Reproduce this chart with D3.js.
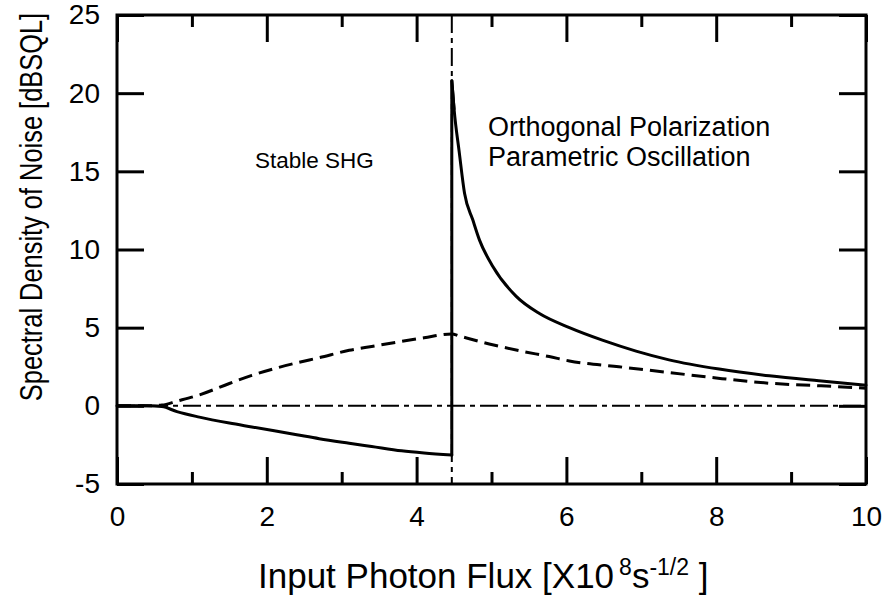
<!DOCTYPE html>
<html>
<head>
<meta charset="utf-8">
<script src="https://cdn.jsdelivr.net/npm/d3@7"></script>
<style>
  html, body { margin: 0; padding: 0; background: #fff; }
  svg text { font-family: "Liberation Sans", Arial, Helvetica, sans-serif; fill: #000; }
</style>
</head>
<body>
<svg id="chart" width="888" height="600"></svg>
<script>
// Input photon flux (x 10^8 s^-1/2) and noise spectral density (dBSQL)
const stableFlux   = [0, 0.4, 0.6, 0.8, 1.1, 1.5, 1.8, 2.1, 2.4, 2.7, 3.1, 3.4, 3.8, 4.1, 4.47];
const stableSolid  = [0, 0, -0.05, -0.37, -0.72, -1.1, -1.35, -1.6, -1.85, -2.1, -2.39, -2.6, -2.88, -3.02, -3.15];
const stableDashed = [0, 0, 0.05, 0.3, 0.7, 1.43, 1.95, 2.38, 2.75, 3.08, 3.55, 3.8, 4.12, 4.35, 4.6];

const oscFlux   = [4.47, 4.5, 4.57, 4.64, 4.75, 4.84, 5.02, 5.33, 5.64, 6.04, 6.48, 6.93, 7.37, 8.04, 8.71, 9.37, 10];
const oscSolid  = [20.8, 19.0, 16.2, 13.6, 11.9, 10.6, 8.9, 7.0, 5.9, 5.0, 4.2, 3.5, 2.94, 2.35, 1.92, 1.6, 1.32];

const oscDashedFlux = [4.47, 4.57, 4.97, 5.4, 5.77, 6.04, 6.7, 7.37, 8.0, 8.7, 9.4, 10];
const oscDashed     = [4.6, 4.47, 3.96, 3.5, 3.15, 2.87, 2.5, 2.13, 1.78, 1.45, 1.28, 1.13];

const threshold = 4.47;            // oscillation threshold flux
const xMajorTicks = [0, 2, 4, 6, 8, 10];
const xMinorTicks = [1, 3, 5, 7, 9];
const yTicks = [-5, 0, 5, 10, 15, 20, 25];

const svg = d3.select("#chart");
const x = d3.scaleLinear().domain([0, 10]).range([117, 866]);
const y = d3.scaleLinear().domain([-5, 25]).range([484, 15]);

const majorLen = 27, minorLen = 12;
const FONT = "'Liberation Sans', Arial, Helvetica, sans-serif";

// dash-dot reference lines: zero level and threshold
svg.append("line")
  .attr("x1", x(0)).attr("x2", x(10)).attr("y1", y(0)).attr("y2", y(0))
  .attr("stroke", "#000").attr("stroke-width", 2).attr("stroke-dasharray", "18,5,5,5");
svg.append("line")
  .attr("x1", x(threshold)).attr("x2", x(threshold)).attr("y1", y(25)).attr("y2", y(-5))
  .attr("stroke", "#000").attr("stroke-width", 2).attr("stroke-dasharray", "18,5,5,5");

// axes with inward ticks
function tickAxis(axisFn, scale, values, len, translate, pad) {
  const ax = axisFn(scale).tickValues(values).tickSizeInner(-len).tickSizeOuter(0);
  if (pad === undefined) ax.tickFormat("");
  else ax.tickPadding(pad).tickFormat(d => String(d));
  const g = svg.append("g").attr("transform", translate).call(ax);
  g.select(".domain").remove();
  g.attr("font-size", 28).attr("font-family", FONT);
  g.selectAll(".tick line").attr("stroke", "#000").attr("stroke-width", 3);
  return g;
}
tickAxis(d3.axisBottom, x, xMajorTicks, majorLen, `translate(0,${y(-5)})`, 22);
tickAxis(d3.axisBottom, x, xMinorTicks, minorLen, `translate(0,${y(-5)})`);
tickAxis(d3.axisTop, x, xMajorTicks, majorLen, `translate(0,${y(25)})`);
tickAxis(d3.axisTop, x, xMinorTicks, minorLen, `translate(0,${y(25)})`);
tickAxis(d3.axisLeft, y, yTicks, majorLen, `translate(${x(0)},0)`, 17);
tickAxis(d3.axisRight, y, yTicks, majorLen, `translate(${x(10)},0)`);

// plot frame
svg.append("rect")
  .attr("x", x(0)).attr("y", y(25))
  .attr("width", x(10) - x(0)).attr("height", y(-5) - y(25))
  .attr("fill", "none").attr("stroke", "#000").attr("stroke-width", 3);

const smooth = d3.line().x(d => x(d[0])).y(d => y(d[1])).curve(d3.curveMonotoneX);
const straight = d3.line().x(d => x(d[0])).y(d => y(d[1]));

const stableSolidPts = stableFlux.map((f, i) => [f, stableSolid[i]]);
const oscSolidPts = oscFlux.map((f, i) => [f, oscSolid[i]]);
const dashedPts = stableFlux.map((f, i) => [f, stableDashed[i]])
  .concat(oscDashedFlux.slice(1).map((f, i) => [f, oscDashed[i + 1]]));

const solidStyle = sel => sel.attr("fill", "none").attr("stroke", "#000")
  .attr("stroke-width", 3).attr("stroke-linejoin", "round").attr("stroke-linecap", "round");

// solid curve: stable branch, jump at threshold, oscillation branch
svg.append("path").attr("d", smooth(stableSolidPts)).call(solidStyle);
svg.append("path")
  .attr("d", straight([stableSolidPts[stableSolidPts.length - 1], oscSolidPts[0], oscSolidPts[1]]))
  .call(solidStyle);
svg.append("path").attr("d", smooth(oscSolidPts)).call(solidStyle);

svg.append("path").attr("d", smooth(dashedPts))
  .attr("fill", "none").attr("stroke", "#000").attr("stroke-width", 3)
  .attr("stroke-dasharray", "14,7");

// region labels
svg.append("text").attr("x", 255).attr("y", 168).attr("font-size", 22.5).text("Stable SHG");
svg.append("text").attr("x", 488).attr("y", 136).attr("font-size", 27).text("Orthogonal Polarization");
svg.append("text").attr("x", 488).attr("y", 166).attr("font-size", 27).text("Parametric Oscillation");

// axis titles
const xt = svg.append("text").attr("x", 258).attr("y", 588).attr("font-size", 35);
xt.append("tspan").text("Input Photon Flux [X10");
xt.append("tspan").attr("font-size", 23).attr("dy", -13).attr("dx", 5).text("8");
xt.append("tspan").attr("dy", 13).text("s");
xt.append("tspan").attr("font-size", 23).attr("dy", -13).text("-1/2");
xt.append("tspan").attr("dy", 13).text("  ]");

// y title: condensed along its length
svg.append("text")
  .attr("transform", `translate(42,207) rotate(-90) scale(0.82,1)`)
  .attr("text-anchor", "middle").attr("font-size", 31)
  .text("Spectral Density of Noise [dBSQL]");
</script>
</body>
</html>
